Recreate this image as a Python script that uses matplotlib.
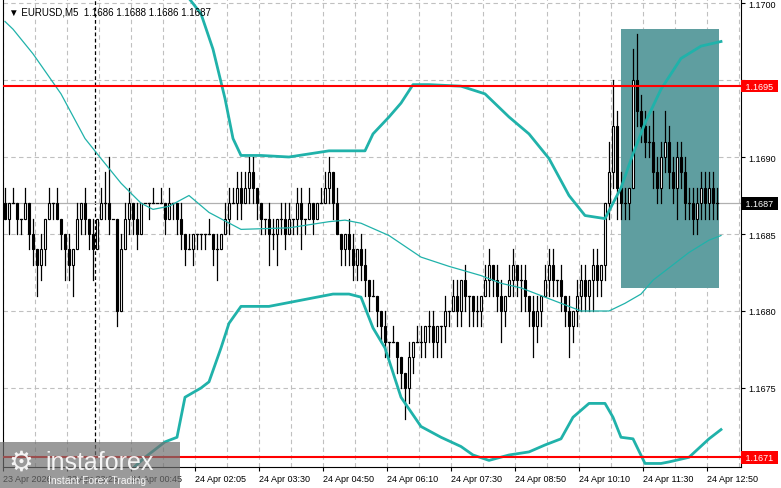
import numpy as np
import matplotlib
matplotlib.use("Agg")
import matplotlib.pyplot as plt
import matplotlib.patches as patches

plt.rcParams["font.family"] = ["Liberation Sans", "DejaVu Sans"]

base = 1.1670
pip = 0.0001

# candle closes, in pips above 1.1670 (open = previous close)
closes = [16, 17, 17, 16, 16, 17, 15, 14, 13, 14,
          16, 17, 17, 16, 15, 14, 13, 14, 16, 17,
          16, 15, 14, 16, 17, 17, 16, 16, 10, 14,
          16, 17, 16, 15, 17, 17, 17, 17, 17, 17,
          16, 17, 17, 16, 15, 14, 14, 15, 15, 15,
          15, 15, 14, 14, 15, 16, 17, 17, 18, 17,
          18, 19, 18, 17, 16, 16, 15, 15, 16, 16,
          15, 16, 16, 17, 16, 16, 17, 16, 17, 17,
          18, 19, 17, 15, 14, 15, 14, 13, 14, 13,
          12, 11, 11, 10, 9, 8, 8, 8, 7, 6,
          5, 7, 8, 8, 8, 9, 9, 8, 9, 9,
          10, 10, 11, 10, 12, 11, 11, 10, 10, 11,
          12, 13, 12, 11, 10, 11, 12, 13, 12, 12,
          11, 10, 9, 10, 11, 12, 13, 12, 12, 11,
          10, 9, 10, 11, 12, 11, 12, 13, 12, 13,
          17, 19, 22, 18, 17, 17, 18, 25, 23, 22,
          21, 21, 19, 18, 20, 21, 19, 18, 20, 19,
          17, 17, 16, 17, 18, 17, 18, 17, 17]
first_open = 17
upper_wick = [1, 0, 1, 0, 0, 1, 0, 1, 0, 1, 0, 1, 0, 1, 0, 0, 1, 0, 1, 0,
              1, 0, 1, 0, 1, 2, 3, 0, 0, 1, 1, 1, 0, 1, 0, 0, 0, 1, 0, 1,
              0, 1, 0, 0, 1, 0, 1, 0, 0, 0, 0, 1, 0, 1, 0, 1, 1, 1, 1, 1,
              1, 1, 1, 0, 0, 0, 1, 1, 0, 1, 1, 1, 0, 1, 1, 0, 1, 0, 0, 1,
              1, 1, 0, 1, 0, 0, 1, 1, 0, 1, 1, 0, 1, 0, 0, 1, 0, 1, 0, 0,
              0, 1, 0, 1, 1, 0, 1, 1, 0, 0, 1, 0, 1, 1, 0, 1, 0, 0, 1, 0,
              1, 1, 0, 1, 1, 0, 1, 1, 0, 1, 1, 0, 1, 1, 0, 1, 1, 1, 0, 1,
              0, 1, 0, 1, 1, 1, 0, 1, 1, 0, 0, 2, 3, 1, 1, 1, 0, 2, 3, 1,
              1, 1, 2, 1, 1, 2, 1, 1, 1, 1, 1, 1, 1, 1, 1, 1, 1, 1, 1]
lower_wick = [0, 1, 0, 1, 1, 0, 1, 1, 2, 1, 1, 0, 1, 0, 1, 2, 1, 2, 0, 1,
              1, 1, 2, 0, 0, 1, 1, 0, 1, 0, 0, 1, 1, 1, 0, 0, 1, 0, 0, 0,
              1, 0, 1, 1, 1, 1, 0, 1, 1, 1, 1, 0, 1, 2, 0, 0, 1, 0, 1, 1,
              0, 1, 1, 1, 1, 1, 2, 1, 2, 1, 1, 0, 1, 1, 2, 1, 0, 1, 0, 0,
              0, 1, 1, 0, 1, 1, 1, 1, 1, 1, 1, 1, 0, 1, 1, 1, 1, 0, 1, 1,
              2, 1, 1, 0, 1, 1, 1, 1, 1, 2, 1, 1, 0, 1, 1, 1, 2, 1, 1, 1,
              0, 1, 1, 1, 2, 1, 0, 1, 1, 2, 1, 1, 2, 1, 1, 0, 1, 1, 1, 1,
              1, 2, 1, 1, 1, 1, 1, 2, 1, 1, 1, 1, 1, 2, 1, 1, 1, 0, 1, 1,
              1, 1, 1, 1, 1, 1, 1, 1, 2, 1, 1, 1, 1, 1, 1, 1, 1, 1, 1]

# Bollinger upper / lower and moving average (bar index, pips)
upper_idx = [30, 40, 46, 49, 52, 55, 57, 59, 64, 71, 81, 90, 92, 96, 99, 102, 106, 114,
             120, 126, 131, 136, 141, 145, 150, 154, 157, 160, 164, 169, 174, 179]
upper_val = [35, 33, 30.3, 29.3, 27.0, 23.8, 21.2, 20.1, 20.1, 20.0, 20.4, 20.4, 21.5,
             22.6, 23.5, 24.7, 24.7, 24.6, 24.1, 22.6, 21.5, 19.9, 17.5, 16.2, 16.0,
             18.0, 20.2, 22.2, 24.4, 26.4, 27.2, 27.5]
lower_idx = [24, 35, 40, 43, 45, 47, 49, 51, 54, 56, 59, 66, 74, 82, 86, 89, 92, 95, 99,
             104, 109, 114, 117, 121, 126, 131, 135, 139, 142, 146, 150, 152, 154, 157,
             160, 164, 166, 171, 176, 179]
lower_val = [-2.1, 0.5, 1.5, 1.8, 4.4, 4.7, 5.0, 5.4, 7.6, 9.2, 10.3, 10.3, 10.7, 11.1,
             11.1, 10.9, 8.9, 7.6, 4.4, 2.5, 1.8, 1.2, 0.65, 0.3, 0.65, 0.85, 1.3, 1.7,
             3.1, 4.0, 4.0, 3.1, 1.8, 1.7, 0.1, 0.1, 0.2, 0.5, 1.7, 2.3]
ma_idx = [0, 2, 7, 14, 20, 24, 29, 34, 37, 41, 46, 51, 59, 71, 81, 85, 89, 96, 104, 111,
          119, 124, 129, 134, 139, 144, 151, 155, 159, 162, 166, 171, 176, 179]
ma_val = [28.8, 28.3, 26.7, 24.1, 21.2, 19.9, 18.3, 17.0, 16.6, 16.8, 17.5, 16.4, 15.3,
          15.4, 15.8, 15.9, 15.7, 14.9, 13.5, 12.9, 12.3, 11.8, 11.5, 11.0, 10.5, 10.0,
          10.0, 10.5, 11.1, 12.0, 12.8, 13.8, 14.6, 14.9]

time_pos = [0, 16, 32, 48, 64, 80, 96, 112, 128, 144, 160, 176]
time_labels = ["23 Apr 2026", "23 Apr 23:25", "24 Apr 00:45", "24 Apr 02:05",
               "24 Apr 03:30", "24 Apr 04:50", "24 Apr 06:10", "24 Apr 07:30",
               "24 Apr 08:50", "24 Apr 10:10", "24 Apr 11:30", "24 Apr 12:50"]
price_ticks = [1.1675, 1.1680, 1.1685, 1.1690, 1.1695, 1.1700]
level_hi = 1.16946
level_lo = 1.16705
last_price = 1.1687

def P(v):
    return base + np.asarray(v, dtype=float) * pip

fig = plt.figure(figsize=(7.81, 4.89), dpi=100)
ax = fig.add_axes([3 / 781, 21 / 489, 738 / 781, 468 / 489])
ax.set_xlim(0, 184.5)
ax.set_ylim(P(-0.13), P(30.26))

for k in range(0, 185, 8):
    ax.axvline(k, color="#c0c0c0", ls=(0, (4, 3)), lw=0.8, zorder=0)
for t in price_ticks:
    ax.axhline(t, color="#c0c0c0", ls=(0, (4, 3)), lw=0.8, zorder=0)
ax.axvline(23, color="black", ls=(0, (3, 2)), lw=0.9, zorder=1)
ax.axhline(last_price, color="#b0b0b0", lw=0.9, zorder=1)

ax.add_patch(patches.Rectangle((154.5, P(11.5)), 24.5, P(28.3) - P(11.5),
                               facecolor="#5f9ea0", edgecolor="none", zorder=1))

opens = [first_open] + closes[:-1]
for i, (o, c) in enumerate(zip(opens, closes)):
    x = i + 0.5
    hi = max(o, c) + upper_wick[i]
    lo = min(o, c) - lower_wick[i]
    ax.plot([x, x], [P(lo), P(hi)], color="black", lw=0.9, zorder=3)
    if o == c:
        ax.plot([x - 0.35, x + 0.35], [P(o), P(o)], color="black", lw=0.9, zorder=3)
    else:
        fc = "white" if c > o else "black"
        ax.add_patch(patches.Rectangle((x - 0.35, P(min(o, c))), 0.7, abs(c - o) * pip,
                                       facecolor=fc, edgecolor="black", lw=0.8, zorder=4))

teal = "#20b2aa"
ax.plot(np.array(upper_idx) + 0.5, P(upper_val), color=teal, lw=2, zorder=5)
ax.plot(np.array(lower_idx) + 0.5, P(lower_val), color=teal, lw=2, zorder=5)
ax.plot(np.array(ma_idx) + 0.5, P(ma_val), color=teal, lw=0.9, zorder=5)

ax.axhline(level_hi, color="red", lw=1.5, zorder=6)
ax.axhline(level_lo, color="red", lw=1.5, zorder=6)

ax.yaxis.tick_right()
ax.set_yticks(price_ticks)
# the 1.1695 tick label sits under the red level box
ax.set_yticklabels(["" if abs(t - 1.1695) < 1e-6 else "%.4f" % t for t in price_ticks],
                   fontsize=6.5)
ax.set_xticks(time_pos)
ax.set_xticklabels(time_labels, fontsize=6.5, ha="left")
ax.tick_params(length=3, width=0.8, pad=2)
ax.spines["top"].set_visible(False)

for val, txt, fc in [(level_hi, "1.1695", "red"),
                     (last_price, "1.1687", "black"),
                     (level_lo, "1.1671", "red")]:
    ax.text(1.003, val, " " + txt + " ", transform=ax.get_yaxis_transform(),
            fontsize=6.5, color="white", va="center", ha="left",
            bbox=dict(boxstyle="square,pad=0.2", fc=fc, ec="none"), zorder=10)

ax.text(0.008, 0.985, "\u25bc EURUSD,M5  1.1686 1.1688 1.1686 1.1687",
        transform=ax.transAxes, fontsize=7, va="top", ha="left", zorder=10)

# watermark
fig.patches.append(patches.Rectangle((0, 0), 180 / 781, 46 / 489, transform=fig.transFigure,
                                     facecolor="#707070", alpha=0.7, edgecolor="none", zorder=20))
fig.text(8 / 781, 26 / 489, "\u2699", color="white", fontsize=20, va="center",
         ha="left", alpha=0.9, zorder=21, family="DejaVu Sans")
fig.text(45 / 781, 26 / 489, "instaforex", color="white", fontsize=18, va="center",
         ha="left", alpha=0.9, zorder=21)
fig.text(48 / 781, 8 / 489, "Instant Forex Trading", color="white", fontsize=7.5,
         va="center", ha="left", alpha=0.9, zorder=21)

fig.savefig("out.png", dpi=100)
